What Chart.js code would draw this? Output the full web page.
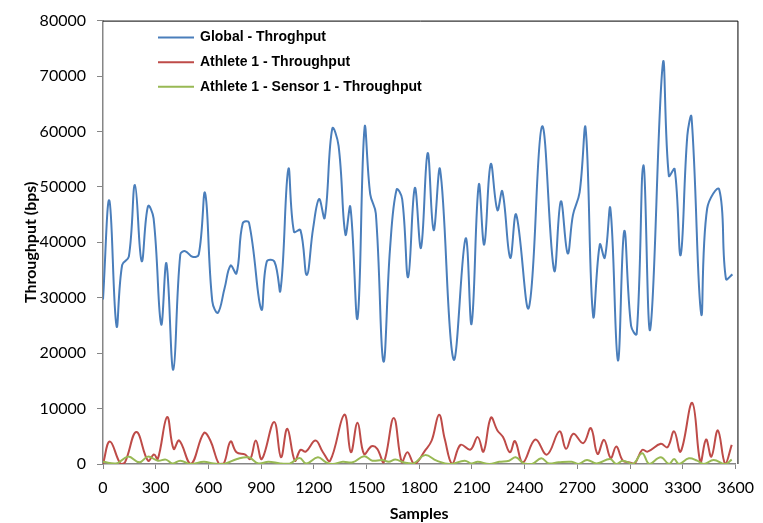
<!DOCTYPE html>
<html>
<head>
<meta charset="utf-8">
<title>Throughput</title>
<script src="https://cdn.jsdelivr.net/npm/chart.js@4.4.1/dist/chart.umd.min.js"></script>
<style>
  html, body { margin: 0; padding: 0; background: #fff; }
  #wrap { width: 763px; height: 523px; }
</style>
</head>
<body>
<div id="wrap"><canvas id="myChart" width="763" height="523"></canvas></div>
<script>
// samples (x) and throughput (bps)
const globalSamples = [0, 36, 77, 109, 147, 182, 220, 256, 288, 331, 361, 400, 440, 468, 509, 545, 581, 622, 654, 692, 726, 760, 795, 831, 901, 932, 976, 1010, 1055, 1087, 1124, 1160, 1196, 1230, 1262, 1305, 1341, 1380, 1408, 1449, 1489, 1521, 1553, 1596, 1634, 1671, 1703, 1737, 1775, 1810, 1848, 1882, 1919, 1995, 2064, 2098, 2139, 2170, 2207, 2245, 2273, 2318, 2352, 2424, 2499, 2568, 2606, 2645, 2675, 2713, 2747, 2790, 2828, 2856, 2888, 2931, 2967, 3006, 3038, 3076, 3115, 3187, 3221, 3254, 3288, 3326, 3350, 3405, 3439, 3508, 3546, 3583];
const globalValues = [29700, 47550, 24900, 35900, 37400, 50350, 36600, 46500, 44300, 25200, 36200, 17000, 37800, 38400, 37400, 37800, 48900, 29400, 27300, 31700, 35800, 34400, 43400, 43550, 27900, 36500, 36500, 31300, 53200, 41900, 42200, 34100, 42500, 47800, 44400, 60500, 57400, 41400, 46400, 26300, 60700, 48700, 45200, 18500, 38900, 49500, 47800, 33700, 49800, 39000, 56100, 42200, 53100, 18900, 40700, 25300, 50400, 39600, 54100, 45800, 49200, 37200, 45000, 28200, 60900, 34900, 47400, 38000, 44900, 49000, 60600, 26700, 39600, 37200, 46100, 18700, 42000, 24900, 23500, 53900, 24300, 72300, 52000, 53200, 37700, 59200, 62600, 27100, 46100, 49500, 33400, 34200];

const athleteSamples = [0, 39, 100, 125, 190, 256, 290, 312, 365, 402, 434, 500, 574, 611, 660, 688, 726, 760, 810, 838, 870, 904, 974, 1013, 1049, 1092, 1124, 1154, 1210, 1252, 1293, 1374, 1411, 1449, 1486, 1529, 1561, 1598, 1655, 1701, 1733, 1773, 1833, 1871, 1913, 1945, 1988, 2035, 2091, 2133, 2166, 2208, 2245, 2277, 2316, 2345, 2390, 2461, 2527, 2598, 2636, 2677, 2734, 2777, 2815, 2852, 2890, 2922, 2959, 2997, 3025, 3069, 3100, 3175, 3213, 3251, 3288, 3354, 3401, 3433, 3463, 3500, 3542, 3579];
const athleteValues = [0, 4060, 0, 300, 5760, 600, 1700, 900, 8480, 2730, 4240, 0, 5580, 4240, 0, 100, 4060, 2120, 1700, 900, 4240, 900, 7580, 1210, 6360, 600, 2550, 2240, 4240, 2120, 600, 8900, 2120, 7450, 1820, 3210, 2730, 300, 8300, 300, 2120, 0, 2420, 4240, 8900, 4550, 0, 3450, 2600, 4850, 2240, 8360, 6060, 4850, 2120, 4120, 300, 4420, 1700, 5880, 2730, 5450, 3760, 6480, 1820, 4360, 1090, 3150, 600, 300, 0, 2550, 2240, 3640, 3030, 5880, 2240, 11030, 300, 4420, 1330, 6060, 0, 3450];

const sensorSamples = [0, 75, 143, 207, 255, 312, 358, 395, 440, 500, 574, 630, 688, 763, 829, 885, 942, 1008, 1064, 1119, 1157, 1223, 1270, 1308, 1365, 1421, 1486, 1533, 1589, 1627, 1664, 1711, 1768, 1833, 1899, 1974, 2059, 2097, 2133, 2199, 2255, 2312, 2349, 2396, 2443, 2495, 2537, 2593, 2668, 2706, 2755, 2810, 2886, 2922, 2959, 3016, 3069, 3110, 3175, 3222, 3251, 3279, 3335, 3382, 3420, 3476, 3542, 3579];
const sensorValues = [400, 100, 1330, 300, 1330, 600, 790, 100, 600, 0, 400, 100, 0, 900, 1200, 100, 400, 100, 100, 1090, 100, 1200, 300, 0, 400, 300, 1400, 600, 730, 400, 790, 300, 100, 1600, 600, 0, 600, 100, 400, 0, 400, 600, 1200, 100, 0, 1030, 100, 300, 400, 0, 730, 100, 900, 0, 600, 0, 1940, 0, 1200, 0, 900, 0, 1030, 600, 0, 730, 0, 790];

const seriesLabels = ['Global - Throghput', 'Athlete 1 - Throughput', 'Athlete 1 - Sensor 1 - Throughput'];

function points(xs, ys) {
    return xs.map((x, i) => ({ x: x, y: ys[i] }));
}

// legend drawn inside the plot, top left
const insideLegend = {
    id: 'insideLegend',
    afterDatasetsDraw(chart) {
        const { ctx, chartArea } = chart;
        ctx.save();
        ctx.font = 'bold 14px "Liberation Sans", Arial, sans-serif';
        ctx.textBaseline = 'middle';
        chart.data.datasets.forEach((ds, i) => {
            const y = chartArea.top + 17 + i * 24.6;
            const x = chartArea.left + 55;
            ctx.strokeStyle = ds.borderColor;
            ctx.lineWidth = 2;
            ctx.beginPath();
            ctx.moveTo(x, y);
            ctx.lineTo(x + 36, y);
            ctx.stroke();
            ctx.fillStyle = '#000';
            ctx.fillText(ds.label, x + 42, y);
        });
        ctx.restore();
    }
};

// black frame on top and right of the plot area
const plotFrame = {
    id: 'plotFrame',
    afterDraw(chart) {
        const { ctx, chartArea } = chart;
        ctx.save();
        ctx.strokeStyle = '#000';
        ctx.lineWidth = 1;
        ctx.beginPath();
        ctx.moveTo(chartArea.left, chartArea.top + 0.5);
        ctx.lineTo(chartArea.right + 2.5, chartArea.top + 0.5);
        ctx.lineTo(chartArea.right + 2.5, chartArea.bottom);
        ctx.stroke();
        ctx.restore();
    }
};

Chart.defaults.font.family = 'Lato, "Open Sans", sans-serif';
Chart.defaults.color = '#000';

const plain = (v) => String(v);

const ctx = document.getElementById('myChart');
const myChart = new Chart(ctx, {
    type: 'line',
    data: {
        datasets: [{
            label: seriesLabels[0],
            data: points(globalSamples, globalValues),
            borderColor: '#4A7EBB',
            order: 3
        }, {
            label: seriesLabels[1],
            data: points(athleteSamples, athleteValues),
            borderColor: '#BE4B48',
            order: 2
        }, {
            label: seriesLabels[2],
            data: points(sensorSamples, sensorValues),
            borderColor: '#98B954',
            order: 1
        }]
    },
    options: {
        responsive: false,
        animation: false,
        events: [],
        layout: { padding: { left: 0, top: 17, right: 21, bottom: 0 } },
        elements: {
            line: { borderWidth: 2, tension: 0.4 },
            point: { radius: 0 }
        },
        plugins: {
            legend: { display: false },
            tooltip: { enabled: false }
        },
        scales: {
            x: {
                type: 'linear',
                min: 0,
                max: 3600,
                afterFit: (s) => { s.height = 59; },
                ticks: { stepSize: 300, padding: 9, font: { size: 16 }, maxRotation: 0, callback: plain },
                grid: { drawOnChartArea: false, tickLength: 5, color: '#868686' },
                border: { color: '#868686', width: 1.5 },
                title: { display: true, text: 'Samples', font: { size: 16, weight: 'bold' }, padding: { top: 0, bottom: 0 } }
            },
            y: {
                min: 0,
                max: 80000,
                afterFit: (s) => { s.width = 103; },
                ticks: { stepSize: 10000, padding: 11, font: { size: 16 }, callback: plain },
                grid: { drawOnChartArea: false, tickLength: 6, color: '#868686' },
                border: { color: '#868686', width: 1.5 },
                title: { display: true, text: 'Throughput (bps)', font: { size: 16, weight: 'bold' }, padding: { top: 21, bottom: 0 } }
            }
        }
    },
    plugins: [insideLegend, plotFrame]
});
</script>
</body>
</html>
